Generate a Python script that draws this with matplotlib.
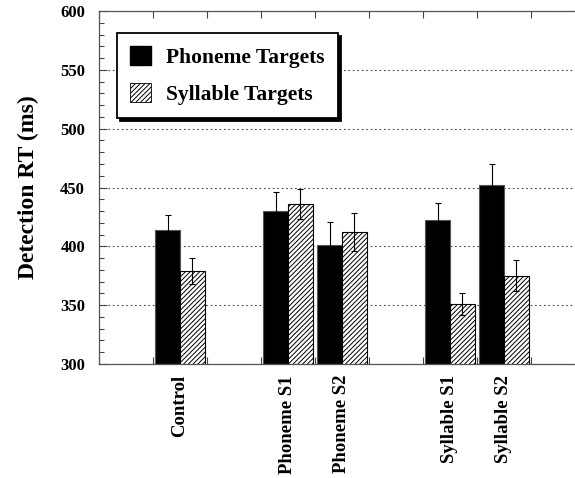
import numpy as np
import matplotlib.pyplot as plt
from matplotlib.patches import Patch

plt.rcParams['font.family'] = ['Liberation Serif', 'DejaVu Serif']
plt.rcParams['font.weight'] = 'bold'
plt.rcParams['hatch.linewidth'] = 0.7

# data
conditions = ['Control', 'Phoneme S1', 'Phoneme S2', 'Syllable S1', 'Syllable S2']
slots = [1, 3, 4, 6, 7]   # position of each condition along the axis (gaps between groups)
phoneme_rt = [414, 430, 401, 422, 452]
phoneme_err = [13, 16, 20, 15, 18]
syllable_rt = [379, 436, 412, 351, 375]
syllable_err = [11, 13, 16, 9, 13]
yticks = [300, 350, 400, 450, 500, 550, 600]

fig = plt.figure(figsize=(5.75, 4.78), dpi=100)
ax = fig.add_axes([99/575, 114/478, 486/575, 353/478])

x = np.array(slots, dtype=float)
w = 0.46
ax.bar(x + 0.27, phoneme_rt, width=w, color='black', edgecolor='#555555', linewidth=0.8,
       zorder=2, label='Phoneme Targets')
ax.bar(x + 0.73, syllable_rt, width=w, color='white', edgecolor='black', linewidth=0.8,
       hatch='///////', zorder=2, label='Syllable Targets')
ax.errorbar(x + 0.27, phoneme_rt, yerr=phoneme_err, fmt='none', ecolor='black',
            elinewidth=0.8, capsize=2.5, capthick=0.8, zorder=3)
ax.errorbar(x + 0.73, syllable_rt, yerr=syllable_err, fmt='none', ecolor='black',
            elinewidth=0.8, capsize=2.5, capthick=0.8, zorder=3)

ax.set_ylim(300, 600)
ax.set_xlim(0, 9)
ax.set_yticks(yticks)
ax.set_yticklabels([str(t) for t in yticks], fontsize=12, fontweight='bold')
ax.set_yticks(np.arange(300, 601, 10), minor=True)
ax.yaxis.grid(True, linestyle=(0, (1.5, 2.5)), color='#444444', linewidth=0.8)
ax.set_axisbelow(True)

# slot boundary ticks on top and bottom, labels in the middle of each slot
ax.set_xticks(np.arange(0, 10))
ax.set_xticklabels([])
ax.set_xticks(x + 0.5, minor=True)
ax.set_xticklabels(conditions, minor=True, rotation=90, fontsize=13.5, fontweight='bold',
                   va='top')
ax.tick_params(axis='x', which='major', direction='in', length=5, width=0.8,
               top=True, color='#444444')
ax.tick_params(axis='x', which='minor', length=0, pad=8)
ax.tick_params(axis='y', which='major', direction='in', length=6, width=0.8, pad=10,
               color='#444444')
ax.tick_params(axis='y', which='minor', direction='in', length=3.5, width=0.8,
               color='#444444')

for side in ['left', 'top', 'bottom']:
    ax.spines[side].set_color('#555555')
    ax.spines[side].set_linewidth(0.9)
ax.spines['right'].set_visible(False)

ax.set_ylabel('Detection RT (ms)', fontsize=17, fontweight='bold', labelpad=15)

handles = [Patch(facecolor='black', edgecolor='black'),
           Patch(facecolor='white', edgecolor='black', hatch='///////', linewidth=0.6)]
leg = ax.legend(handles, ['Phoneme Targets', 'Syllable Targets'], loc='upper left',
                bbox_to_anchor=(0.037, 0.938), borderaxespad=0, fancybox=False,
                shadow={'color': 'black', 'alpha': 1.0},
                prop={'size': 15.5, 'weight': 'bold'},
                handlelength=1.0, handleheight=1.0, handletextpad=0.7,
                labelspacing=0.7, borderpad=0.6, framealpha=1.0)
leg.get_frame().set_edgecolor('black')
leg.get_frame().set_linewidth(1.3)

plt.savefig('out.png', dpi=100)
